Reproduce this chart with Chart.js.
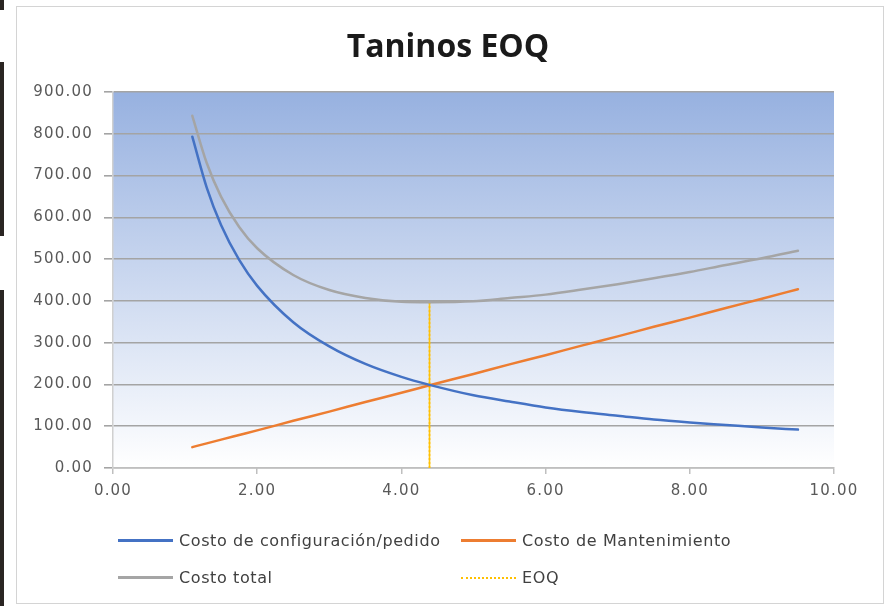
<!DOCTYPE html>
<html>
<head>
<meta charset="utf-8">
<script src="https://cdn.jsdelivr.net/npm/chart.js@4.4.0/dist/chart.umd.min.js"></script>
<style>
  html, body { margin: 0; padding: 0; background: #fff; }
  body { width: 891px; height: 606px; position: relative; overflow: hidden; font-family: 'DejaVu Sans', sans-serif; }
  .edge { position: absolute; left: 0; width: 4px; background: #2a2522; }
  #frame { position: absolute; left: 16px; top: 6px; width: 866px; height: 596px; border: 1px solid #d4d4d4; }
  #chart { display: block; }
  #title { position: absolute; left: 0; width: 896px; top: 25px; text-align: center; font-family: 'Open Sans', sans-serif;
           font-weight: bold; font-size: 32px; line-height: 40px; color: #1a1a1a; }
  .lg { position: absolute; font-size: 16px; letter-spacing: 0.6px; color: #404040; white-space: nowrap; line-height: 20px; }
  .lg i { display: inline-block; width: 55px; vertical-align: middle; margin-right: 6px; margin-top: -2px; }
</style>
</head>
<body>
<div class="edge" style="top:0;height:10px"></div>
<div class="edge" style="top:62px;height:174px"></div>
<div class="edge" style="top:290px;height:316px"></div>
<div id="frame">
  <canvas id="chart" width="866" height="596"></canvas>
</div>
<div id="title"></div>
<div id="legend"></div>
<script>
// Taninos EOQ
var chartTitle = 'Taninos EOQ';
var seriesNames = ['Costo de configuración/pedido', 'Costo de Mantenimiento', 'Costo total', 'EOQ'];

var qValues     = [1.1, 1.3, 1.5, 1.75, 2.0, 2.5, 3.0, 3.5, 4.0, 4.39, 5.0, 5.5, 6.0, 6.5, 7.0, 7.5, 8.0, 8.5, 9.0, 9.5];
var setupCost   = [793, 671, 581, 498, 436, 349, 291, 249, 218, 199, 174, 159, 145, 134, 125, 116, 109, 103, 97, 92];
var holdingCost = [50, 59, 68, 79, 90, 113, 135, 158, 180, 198, 225, 248, 270, 293, 315, 338, 360, 383, 405, 428];
var totalCost   = [843, 730, 649, 577, 526, 462, 426, 407, 398, 397, 399, 407, 415, 427, 440, 454, 469, 486, 502, 520];

var eoqX = [4.39, 4.39];
var eoqY = [0, 398];

var xTicks = [0, 2, 4, 6, 8, 10];
var yTicks = [0, 100, 200, 300, 400, 500, 600, 700, 800, 900];

function pts(xs, ys) {
  return xs.map(function (x, i) { return { x: x, y: ys[i] }; });
}

var lineColors = ['#4472C4', '#ED7D31', '#A5A5A5', '#FFC000'];

var plotBg = {
  id: 'plotBg',
  beforeLayout: function (chart) { chart.ctx.letterSpacing = '1.2px'; },
  beforeDraw: function (chart) {
    var a = chart.chartArea, ctx = chart.ctx;
    ctx.letterSpacing = '1.2px';
    var g = ctx.createLinearGradient(0, a.top, 0, a.bottom);
    g.addColorStop(0, '#97B1E0');
    g.addColorStop(1, '#FFFFFF');
    ctx.save();
    ctx.fillStyle = g;
    ctx.fillRect(a.left, a.top, a.right - a.left, a.bottom - a.top);
    ctx.restore();
  }
};

var tickFont = { family: 'DejaVu Sans', size: 15 };

document.getElementById('title').textContent = chartTitle;

var chart = new Chart(document.getElementById('chart').getContext('2d'), {
  type: 'scatter',
  data: {
    datasets: [
      { label: seriesNames[0], data: pts(qValues, setupCost), borderColor: lineColors[0], borderWidth: 2.5 },
      { label: seriesNames[1], data: pts(qValues, holdingCost), borderColor: lineColors[1], borderWidth: 2.5 },
      { label: seriesNames[2], data: pts(qValues, totalCost), borderColor: lineColors[2], borderWidth: 2.5 },
      { label: seriesNames[3], data: pts(eoqX, eoqY), borderColor: lineColors[3], borderWidth: 2, borderDash: [2, 2], cubicInterpolationMode: 'default', tension: 0 }
    ]
  },
  options: {
    responsive: false,
    animation: false,
    showLine: true,
    elements: {
      point: { radius: 0, hoverRadius: 0 },
      line: { cubicInterpolationMode: 'monotone', fill: false, borderCapStyle: 'round' }
    },
    layout: { padding: { left: 0, right: 49, top: 85, bottom: 95 } },
    plugins: {
      legend: { display: false },
      tooltip: { enabled: false },
      title: { display: false }
    },
    scales: {
      x: {
        type: 'linear',
        min: 0, max: 10,
        afterBuildTicks: function (s) { s.ticks = xTicks.map(function (v) { return { value: v }; }); },
        afterFit: function (s) { s.height = 40; },
        grid: { display: true, drawOnChartArea: false, drawTicks: true, tickLength: 6, color: '#BFBFBF', lineWidth: 1.5 },
        border: { display: true, color: '#BFBFBF', width: 1.5 },
        ticks: { color: '#595959', font: tickFont, padding: 8, callback: function (v) { return Number(v).toFixed(2); } }
      },
      y: {
        min: 0, max: 900,
        afterBuildTicks: function (s) { s.ticks = yTicks.map(function (v) { return { value: v }; }); },
        afterFit: function (s) { s.width = 96; },
        grid: { color: '#A4A4A4', lineWidth: 1.6, drawTicks: true, tickLength: 9 },
        border: { display: true, color: '#D0D0D0', width: 1.5 },
        ticks: { color: '#595959', font: tickFont, padding: 11, callback: function (v) { return Number(v).toFixed(2); } }
      }
    }
  },
  plugins: [plotBg]
});

// Leyenda en dos columnas, como en el original
var legendPos = [[118, 531], [461, 531], [118, 568], [461, 568]];
var legend = document.getElementById('legend');
legend.innerHTML = chart.data.datasets.map(function (ds, i) {
  var style = ds.borderDash
    ? 'border-top:2px dotted ' + ds.borderColor
    : 'border-top:3px solid ' + ds.borderColor;
  return '<div class="lg" style="left:' + legendPos[i][0] + 'px;top:' + legendPos[i][1] + 'px">'
    + '<i style="' + style + '"></i>' + ds.label + '</div>';
}).join('');
</script>
</body>
</html>
